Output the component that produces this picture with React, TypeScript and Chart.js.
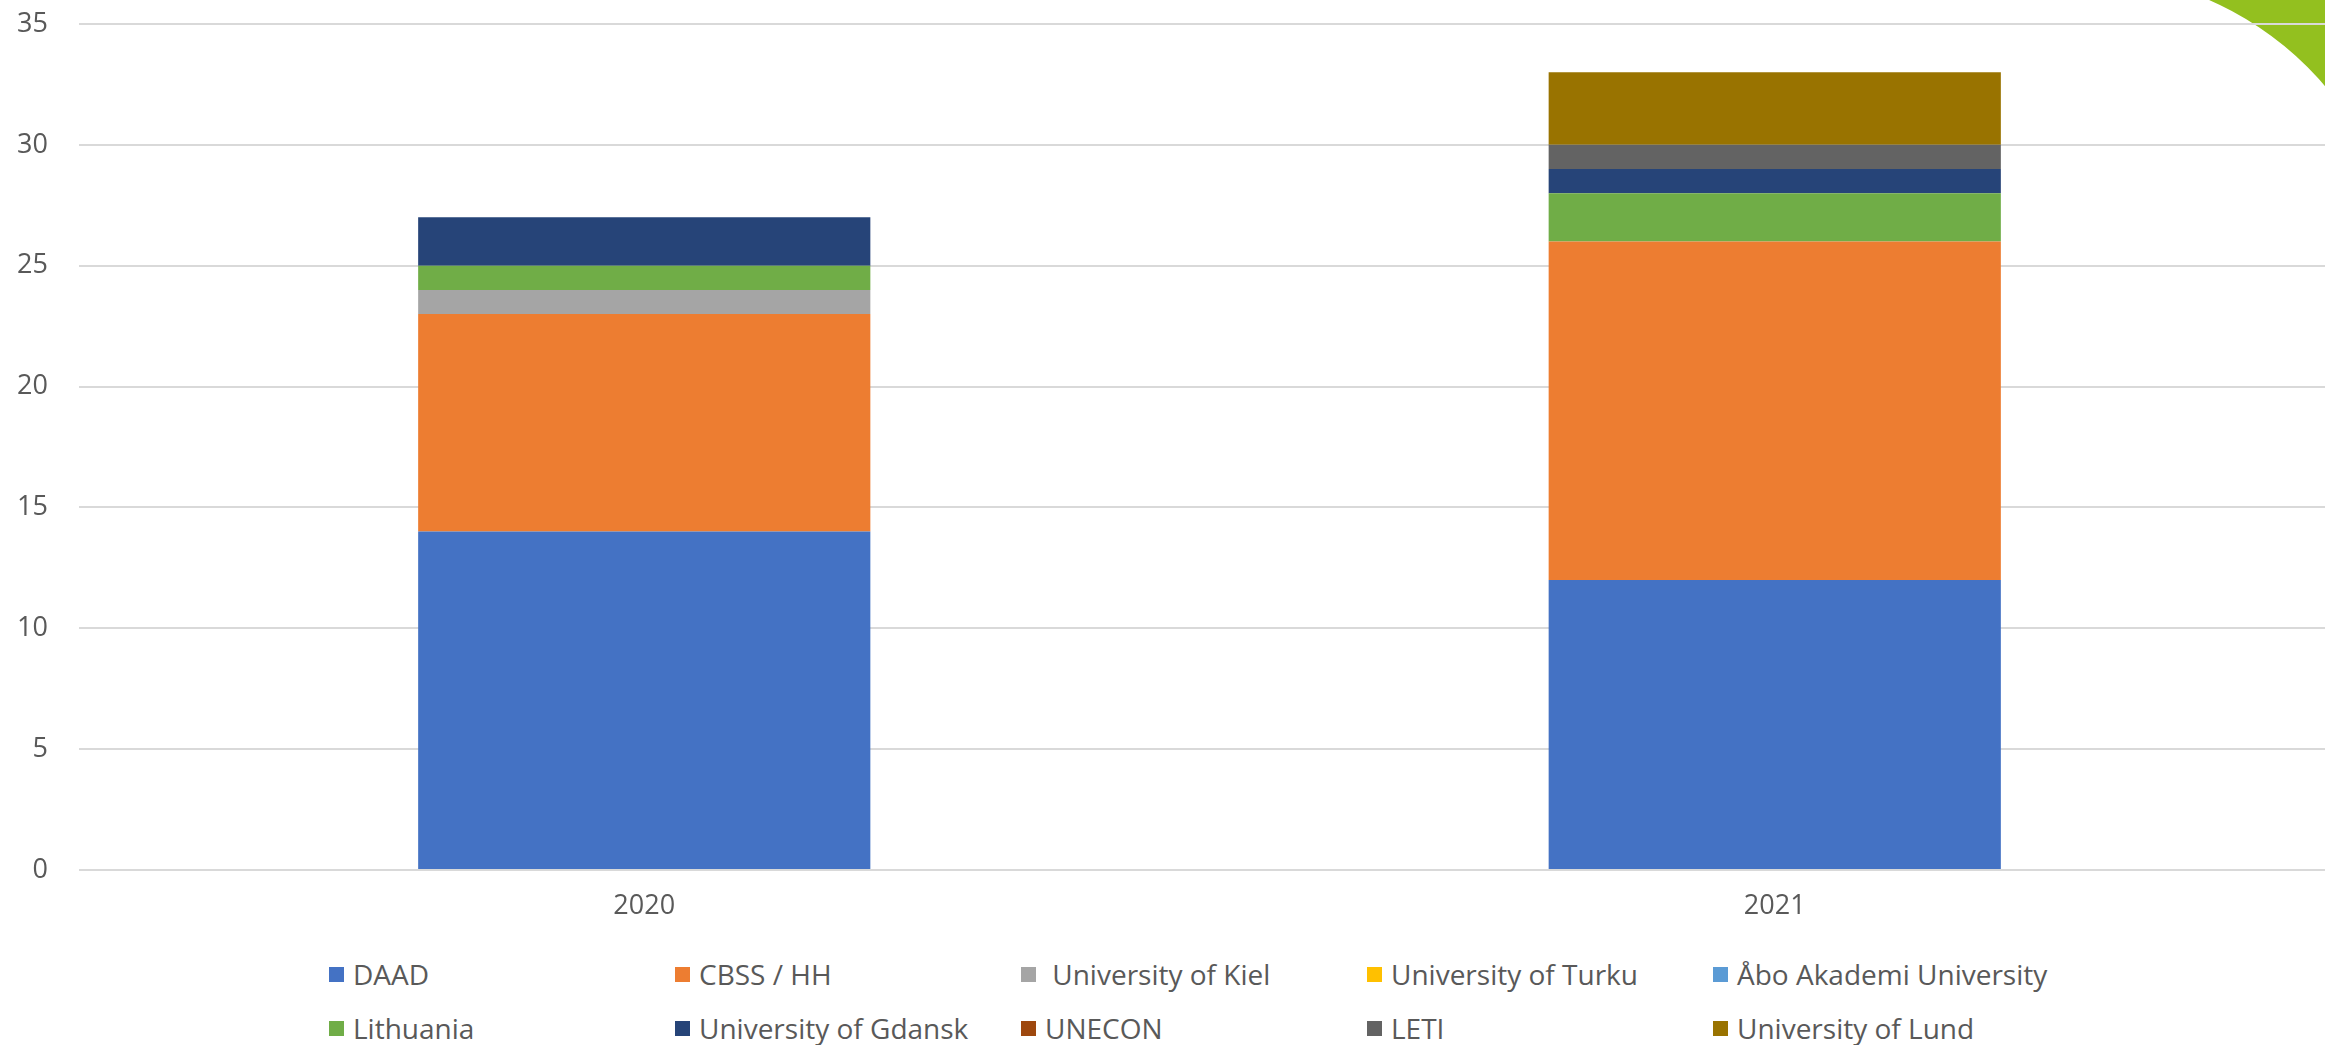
import React, { useEffect, useRef } from "react";
import { Chart, registerables } from "chart.js";

Chart.register(...registerables);

const categories = ["2020", "2021"];
const seriesNames = [
  "DAAD",
  "CBSS / HH",
  " University of Kiel",
  "University of Turku",
  "Åbo Akademi University",
  "Lithuania",
  "University of Gdansk",
  "UNECON",
  "LETI",
  "University of Lund",
];
const seriesColors = [
  "#4472C4",
  "#ED7D31",
  "#A5A5A5",
  "#FFC000",
  "#5B9BD5",
  "#70AD47",
  "#264478",
  "#9E480E",
  "#636363",
  "#997300",
];
const daad = [14, 12];
const cbss = [9, 14];
const kiel = [1, 0];
const turku = [0, 0];
const abo = [0, 0];
const lithuania = [1, 2];
const gdansk = [2, 1];
const unecon = [0, 0];
const leti = [0, 1];
const lund = [0, 3];
const seriesValues = [daad, cbss, kiel, turku, abo, lithuania, gdansk, unecon, leti, lund];
const yTicks = [0, 5, 10, 15, 20, 25, 30, 35];

const FONT = "'Open Sans', sans-serif";
const TEXT = "#595959";

const decoPlugin = {
  id: "deco",
  beforeDraw(chart: any) {
    const ctx = chart.ctx;
    ctx.save();
    ctx.beginPath();
    ctx.rect(2150, 0, 200, 300);
    ctx.clip();
    ctx.beginPath();
    ctx.rect(2150, 0, 200, 300);
    ctx.arc(2080, 295, 322, 0, Math.PI * 2);
    ctx.fillStyle = "#93C01F";
    ctx.fill("evenodd");
    ctx.restore();
  },
};

export default function App() {
  const ref = useRef<HTMLCanvasElement | null>(null);

  useEffect(() => {
    document.body.style.margin = "0";
    const chart = new Chart(ref.current as HTMLCanvasElement, {
      type: "bar",
      data: {
        labels: categories,
        datasets: seriesNames.map((name, i) => ({
          label: name,
          data: seriesValues[i],
          backgroundColor: seriesColors[i],
          borderWidth: 0,
          categoryPercentage: 0.4,
          barPercentage: 1,
        })),
      },
      options: {
        animation: false,
        responsive: true,
        maintainAspectRatio: false,
        layout: { padding: { top: 24, left: 0, right: 0, bottom: 0 } },
        plugins: {
          legend: { display: false },
          tooltip: { enabled: false },
        },
        scales: {
          x: {
            stacked: true,
            grid: { display: false, drawTicks: false },
            border: { display: false },
            ticks: { color: TEXT, font: { family: FONT, size: 27 }, padding: 20 },
            afterFit: (scale: any) => {
              scale.height = 70;
              scale.paddingLeft = 0;
              scale.paddingRight = 0;
            },
          },
          y: {
            stacked: true,
            min: 0,
            max: 35,
            afterBuildTicks: (scale: any) => {
              scale.ticks = yTicks.map((v) => ({ value: v }));
            },
            grid: { color: "#D9D9D9", lineWidth: 2, drawTicks: false },
            border: { display: false },
            ticks: { color: TEXT, font: { family: FONT, size: 27 }, padding: 31 },
            afterFit: (scale: any) => {
              scale.width = 79;
              scale.paddingTop = 0;
              scale.paddingBottom = 0;
            },
          },
        },
      },
      plugins: [decoPlugin],
    });
    return () => chart.destroy();
  }, []);

  return (
    <div style={{ position: "relative", width: 2325, height: 1045, background: "#fff", overflow: "hidden" }}>
      <div style={{ position: "absolute", left: 0, top: 0, width: 2340, height: 940 }}>
        <canvas ref={ref} />
      </div>
      <div
        style={{
          position: "absolute",
          left: 329,
          top: 947,
          display: "grid",
          gridTemplateColumns: "repeat(5, 346px)",
          gridAutoRows: "54px",
          fontFamily: FONT,
          fontSize: 28,
          color: TEXT,
        }}
      >
        {seriesNames.map((name, i) => (
          <div key={name} style={{ display: "flex", alignItems: "center", whiteSpace: "pre" }}>
            <span
              style={{
                display: "inline-block",
                width: 15,
                height: 15,
                background: seriesColors[i],
                marginRight: 9,
                flex: "none",
              }}
            />
            <span>{name}</span>
          </div>
        ))}
      </div>
    </div>
  );
}
